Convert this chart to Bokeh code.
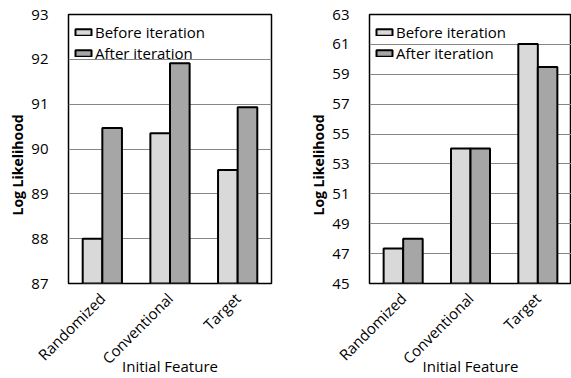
from bokeh.plotting import figure
from bokeh.models import FactorRange, Range1d, FixedTicker, Title, Legend, LegendItem, ColumnDataSource
from bokeh.transform import dodge
from bokeh.layouts import row
from bokeh.embed import file_html
from bokeh.resources import INLINE
import math

categories = ["Randomized", "Conventional", "Target"]
series_names = ["Before iteration", "After iteration"]

left_before = [88.0, 90.35, 89.53]
left_after = [90.47, 91.91, 90.93]
left_ticks = [87, 88, 89, 90, 91, 92, 93]

right_before = [47.35, 54.04, 61.02]
right_after = [48.0, 54.04, 59.48]
right_ticks = [45, 47, 49, 51, 53, 55, 57, 59, 61, 63]

FONT = "Open Sans"
BEFORE_COLOR = "#d9d9d9"
AFTER_COLOR = "#a6a6a6"


def make_chart(before, after, ticks, width, border_left, border_right, legend_loc_y):
    p = figure(
        x_range=FactorRange(*categories, range_padding=0),
        y_range=Range1d(ticks[0], ticks[-1]),
        width=width, height=378,
        min_border_left=border_left, min_border_right=border_right,
        min_border_top=14, min_border_bottom=95,
        output_backend="svg", toolbar_location=None,
        background_fill_color="white", border_fill_color="white",
    )
    src = ColumnDataSource(dict(cat=categories, before=before, after=after))
    bottom = ticks[0]
    r1 = p.vbar(x=dodge("cat", -0.145, range=p.x_range), top="before", bottom=bottom,
                width=0.29, source=src, fill_color=BEFORE_COLOR,
                line_color="black", line_width=2)
    r2 = p.vbar(x=dodge("cat", 0.145, range=p.x_range), top="after", bottom=bottom,
                width=0.29, source=src, fill_color=AFTER_COLOR,
                line_color="black", line_width=2)

    p.outline_line_color = "black"
    p.outline_line_width = 1.5

    p.xgrid.grid_line_color = None
    p.ygrid.grid_line_color = "#868686"
    p.ygrid.grid_line_width = 1
    p.ygrid.level = "underlay"

    p.yaxis.ticker = FixedTicker(ticks=ticks)
    for ax in (p.xaxis[0], p.yaxis[0]):
        ax.axis_line_color = None
        ax.major_tick_line_color = None
        ax.minor_tick_line_color = None
        ax.major_tick_out = 0
        ax.major_tick_in = 0
        ax.minor_tick_out = 0
        ax.major_label_text_font = FONT
        ax.major_label_text_font_size = "15px"
        ax.major_label_text_color = "black"
    p.yaxis.major_label_standoff = 20
    p.xaxis.major_label_standoff = 12
    p.xaxis.major_label_orientation = math.pi / 4
    p.xaxis.axis_label = "Initial Feature"
    p.xaxis.axis_label_text_font = FONT
    p.xaxis.axis_label_text_font_size = "15px"
    p.xaxis.axis_label_text_font_style = "normal"
    p.xaxis.axis_label_text_color = "black"
    p.xaxis.axis_label_standoff = -22

    ytitle = Title(text="Log Likelihood", align="left", offset=68,
                   text_font=FONT, text_font_size="14px", text_font_style="bold",
                   text_color="black", standoff=4)
    p.add_layout(ytitle, "left")

    legend = Legend(items=[LegendItem(label=series_names[0], renderers=[r1]),
                           LegendItem(label=series_names[1], renderers=[r2])],
                    location=(5, legend_loc_y), orientation="vertical",
                    border_line_color=None, background_fill_alpha=0,
                    padding=0, margin=0, spacing=1,
                    glyph_width=20, glyph_height=8, label_height=19,
                    label_standoff=2,
                    label_text_font=FONT, label_text_font_size="15px",
                    label_text_color="black")
    p.add_layout(legend, "center")
    return p


p1 = make_chart(left_before, left_after, left_ticks, 290, 68, 19, 220)
p2 = make_chart(right_before, right_after, right_ticks, 281, 79, 0, 220)

layout = row(p1, p2, spacing=0)
open("out.html", "w").write(file_html(layout, INLINE))
